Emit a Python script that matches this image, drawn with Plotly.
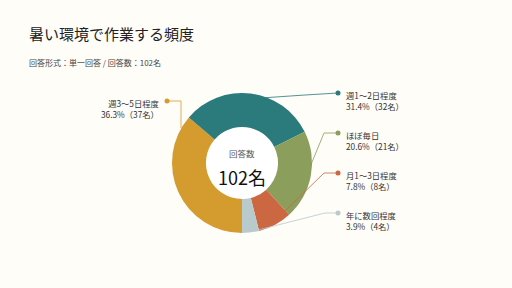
import plotly.graph_objects as go

W, H = 512, 288

labels = ["週3〜5日程度", "週1〜2日程度", "ほぼ毎日", "月1〜3日程度", "年に数回程度"]
counts = [37, 32, 21, 8, 4]
percents = ["36.3%", "31.4%", "20.6%", "7.8%", "3.9%"]
colors = ["#D49B2F", "#2B7A7C", "#8B9E5C", "#CC6841", "#B9CACD"]
total = 102

title = "暑い環境で作業する頻度"
subtitle = "回答形式：単一回答 / 回答数：102名"

# layout of the leader lines (pixel positions): dot, elbow, end on the ring
leader = [
    [(167, 101), (181, 101), (181, 128)],
    [(338, 93), (305, 95), (261, 98)],
    [(338, 133), (324, 133), (310, 167)],
    [(338, 173), (324, 173), (285, 211)],
    [(338, 213), (325, 213), (258, 230)],
]
label_side = ["left", "right", "right", "right", "right"]

cx, cy, R = 242, 163, 70


def px(x):
    return x / W


def py(y):
    return 1 - y / H


fig = go.Figure()
fig.add_trace(go.Pie(
    labels=labels,
    values=counts,
    sort=False,
    direction="clockwise",
    rotation=180,
    hole=0.515,
    marker=dict(colors=colors, line=dict(color="#FFFFFF", width=0)),
    textinfo="none",
    hoverinfo="label+value+percent",
    showlegend=False,
    domain=dict(x=[px(cx - R), px(cx + R)], y=[py(cy + R), py(cy - R)]),
))

shapes = []
# white disc behind the hole
shapes.append(dict(type="circle", xref="paper", yref="paper", layer="below",
                   x0=px(cx - 37), x1=px(cx + 37), y0=py(cy + 37), y1=py(cy - 37),
                   fillcolor="#FFFFFF", line=dict(width=0)))
annotations = []
for i, pts in enumerate(leader):
    path = "M " + " L ".join(f"{px(x)},{py(y)}" for x, y in pts)
    shapes.append(dict(type="path", xref="paper", yref="paper", path=path,
                       line=dict(color=colors[i], width=1), opacity=0.8))
    dx, dy = pts[0]
    shapes.append(dict(type="circle", xref="paper", yref="paper",
                       x0=px(dx - 2.5), x1=px(dx + 2.5), y0=py(dy + 2.5), y1=py(dy - 2.5),
                       fillcolor=colors[i], line=dict(width=0)))
    text = f"{labels[i]}<br>{percents[i]}（{counts[i]}名）"
    if label_side[i] == "left":
        annotations.append(dict(xref="paper", yref="paper", x=px(dx - 6), y=py(dy - 6),
                                xanchor="right", yanchor="top", align="right", showarrow=False,
                                text=text, font=dict(size=8.3, color="#333333")))
    else:
        annotations.append(dict(xref="paper", yref="paper", x=px(dx + 6), y=py(dy - 6),
                                xanchor="left", yanchor="top", align="left", showarrow=False,
                                text=text, font=dict(size=8.3, color="#333333")))

annotations.append(dict(xref="paper", yref="paper", x=px(27), y=py(33), xanchor="left",
                        yanchor="middle", showarrow=False, text=title,
                        font=dict(size=15, color="#222222")))
annotations.append(dict(xref="paper", yref="paper", x=px(27), y=py(62), xanchor="left",
                        yanchor="middle", showarrow=False, text=subtitle,
                        font=dict(size=8, color="#444444")))
annotations.append(dict(xref="paper", yref="paper", x=px(cx), y=py(153), xanchor="center",
                        yanchor="middle", showarrow=False, text="回答数",
                        font=dict(size=8.5, color="#555555")))
annotations.append(dict(xref="paper", yref="paper", x=px(cx), y=py(177), xanchor="center",
                        yanchor="middle", showarrow=False, text=f"{total}名",
                        font=dict(size=18, color="#111111")))

fig.update_layout(
    width=W, height=H,
    margin=dict(l=0, r=0, t=0, b=0),
    paper_bgcolor="#FFFDF8",
    plot_bgcolor="#FFFDF8",
    font=dict(family="Noto Sans CJK JP, Noto Sans, sans-serif"),
    shapes=shapes,
    annotations=annotations,
)

fig.write_html("out.html")
